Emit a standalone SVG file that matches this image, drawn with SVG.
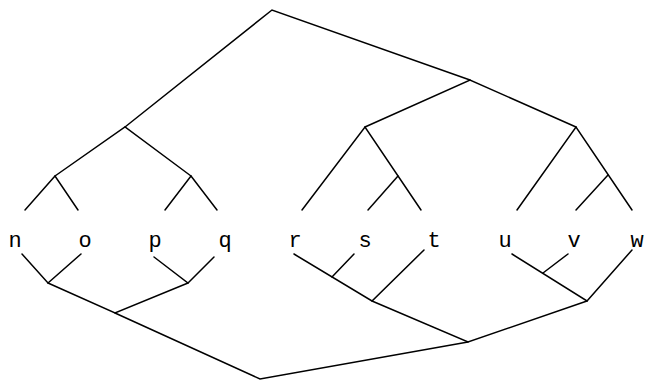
<svg xmlns="http://www.w3.org/2000/svg" width="646" height="381" viewBox="0 0 646 381">
<style>
.e{stroke:#000;stroke-width:1.5;fill:none;stroke-linecap:round}
.t{font-family:"Courier New","Nimbus Mono PS","FreeMono","Liberation Mono",monospace;font-size:22px;fill:#000;text-anchor:middle}
</style>
<rect width="646" height="381" fill="#fff"/>
<g id="connectors">
<polyline class="e" points="125,127 272,10 470,80"/>
<polyline class="e" points="365,127 470,80 576,127"/>
<polyline class="e" points="55,176 125,127 191,176"/>
<polyline class="e" points="25,210 55,176 78,210"/>
<polyline class="e" points="165,210 191,176 217,210"/>
<polyline class="e" points="302,210 365,127 421,210"/>
<line class="e" x1="398" y1="176" x2="368" y2="210"/>
<polyline class="e" points="517,210 576,127 632,210"/>
<line class="e" x1="608" y1="175" x2="576" y2="210"/>
<polyline class="e" points="22,254 48,283 81,254"/>
<polyline class="e" points="154,257 188,283 214,257"/>
<polyline class="e" points="48,283 115,313 188,283"/>
<polyline class="e" points="294,254 372,301 424,250"/>
<line class="e" x1="332" y1="277" x2="354" y2="254"/>
<polyline class="e" points="512,254 587,301 632,250"/>
<line class="e" x1="543" y1="273" x2="568" y2="254"/>
<polyline class="e" points="372,301 468,342 587,301"/>
<polyline class="e" points="115,313 260,379 468,342"/>
</g>
<g id="n"><text class="t" x="15" y="247">n</text></g>
<g id="o"><text class="t" x="85" y="247">o</text></g>
<g id="p"><text class="t" x="155" y="247">p</text></g>
<g id="q"><text class="t" x="225" y="247">q</text></g>
<g id="r"><text class="t" x="295" y="247">r</text></g>
<g id="s"><text class="t" x="365" y="247">s</text></g>
<g id="t"><text class="t" x="434" y="247">t</text></g>
<g id="u"><text class="t" x="505" y="247">u</text></g>
<g id="v"><text class="t" x="574" y="247">v</text></g>
<g id="w"><text class="t" x="637" y="247">w</text></g>
</svg>
